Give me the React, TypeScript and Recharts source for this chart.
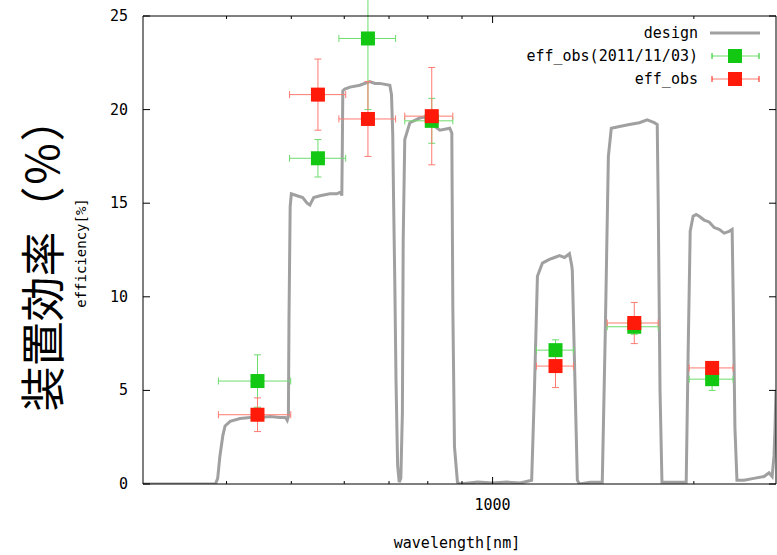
import React from 'react'
import { ComposedChart, Line, Scatter, ErrorBar, XAxis, YAxis, Legend } from 'recharts'

// design efficiency curve, [wavelength nm, efficiency %]
const designCurve: [number, number][] = [
  [300, 0], [385, 0], [388, 0.3], [391, 1.5], [395, 2.6], [398, 3.1], [405, 3.35], [419, 3.5],
  [434, 3.55], [449, 3.55], [465, 3.6], [481, 3.55], [490, 3.55], [493, 3.4], [495, 3.6], [496, 8.8],
  [498, 14.8], [500, 15.5], [510, 15.4], [520, 15.3], [528, 15.0], [533, 14.9], [540, 15.3], [552, 15.4],
  [571, 15.5], [585, 15.5], [593, 15.6], [595, 15.4], [596, 18], [597, 21.0], [601, 21.1], [612, 21.2],
  [633, 21.3], [655, 21.5], [667, 21.4], [678, 21.4], [702, 21.3], [706, 20.8], [709, 18.7], [711, 15.3],
  [714, 10.9], [717, 5.6], [721, 1.0], [725, 0.1], [729, 0.3], [733, 3.8], [735, 13], [739, 18.4],
  [752, 19.3], [778, 19.55], [791, 19.6], [805, 19.3], [834, 18.9], [863, 19.0], [869, 18.75], [872, 9.5],
  [877, 2], [886, 0.1], [893, 0], [950, 0.1], [1000, 0.05], [1050, 0.1], [1100, 0.05], [1144, 0.2],
  [1155, 5], [1167, 11.1], [1187, 11.8], [1216, 12.0], [1238, 12.1], [1259, 12.2], [1281, 12.1], [1303, 12.3],
  [1313, 11.7], [1316, 11.4], [1330, 4.5], [1339, 0.2], [1349, 0], [1400, 0.1], [1459, 0.1], [1474, 8],
  [1490, 17.5], [1505, 19.0], [1548, 19.1], [1602, 19.2], [1658, 19.3], [1703, 19.45], [1745, 19.3], [1763, 19.2],
  [1769, 15], [1780, 5], [1792, 0.1], [1850, 0.1], [1948, 0.1], [1961, 7], [1975, 13.5], [1995, 14.3],
  [2016, 14.4], [2037, 14.3], [2072, 14.1], [2108, 14.0], [2145, 13.7], [2182, 13.6], [2220, 13.4], [2258, 13.5],
  [2282, 13.6], [2290, 10], [2304, 3], [2320, 0.2], [2377, 0.2], [2459, 0.3], [2547, 0.4], [2591, 0.6],
  [2619, 0.4], [2636, 1.5], [2645, 3.0], [2654, 5],
]

// filter bands: center wavelength and half widths (nm)
const bandCenter = [445, 548, 651, 811, 1242, 1629, 2130]
const bandLower = [56, 51, 62, 72, 79, 145, 162]
const bandUpper = [54, 55, 65, 61, 79, 140, 159]

const eff20111103 = [5.5, 17.4, 23.8, 19.4, 7.15, 8.4, 5.6]
const eff20111103Err = [1.4, 1.0, 3.8, 1.2, 0.55, 0.4, 0.6]
const effObs = [3.7, 20.8, 19.5, 19.65, 6.3, 8.6, 6.2]
const effObsErr = [0.9, 1.9, 2.0, 2.6, 1.15, 1.1, 0.3]

const xTicks = [400, 500, 600, 700, 800, 900, 1000, 2000]
const xLabeled = [1000]
const yTicks = [0, 5, 10, 15, 20, 25]

const GREEN = '#12c812'
const GREEN_BAR = '#6ddc6d'
const RED = '#ff1a0a'
const RED_BAR = '#ff7a70'
const GRAY = '#a0a0a0'
const MONO = '"DejaVu Sans Mono", monospace'

const designData = designCurve.map(([wl, eff]) => ({ wl, eff }))

const makeObs = (vals: number[], errs: number[]) =>
  bandCenter.map((wl, i) => ({
    wl,
    eff: vals[i],
    errY: errs[i],
    errX: [bandLower[i], bandUpper[i]],
  }))

const obs2011Data = makeObs(eff20111103, eff20111103Err)
const obsData = makeObs(effObs, effObsErr)

const square = (props: any) => {
  const { cx, cy, fill } = props
  return <rect x={cx - 7} y={cy - 7} width={14} height={14} fill={fill} />
}

const BottomTick = (props: any) => {
  const { x, y, payload } = props
  const major = xLabeled.includes(payload.value)
  return (
    <g>
      <line x1={x} x2={x} y1={y} y2={y - (major ? 7 : 3)} stroke="#000" />
      {major && (
        <text x={x} y={y + 26} textAnchor="middle" fontFamily={MONO} fontSize={15} fill="#000">
          {payload.value}
        </text>
      )}
    </g>
  )
}

const TopTick = (props: any) => {
  const { x, y, payload } = props
  const major = xLabeled.includes(payload.value)
  return <line x1={x} x2={x} y1={y} y2={y + (major ? 7 : 3)} stroke="#000" />
}

const LeftTick = (props: any) => {
  const { x, y, payload } = props
  return (
    <g>
      <line x1={x} x2={x + 7} y1={y} y2={y} stroke="#000" />
      <text x={x - 15} y={y + 5} textAnchor="end" fontFamily={MONO} fontSize={15} fill="#000">
        {payload.value}
      </text>
    </g>
  )
}

const RightTick = (props: any) => {
  const { x, y } = props
  return <line x1={x} x2={x - 7} y1={y} y2={y} stroke="#000" />
}

const renderYLabel = () => (
  <text x={81} y={253} transform="rotate(-90 81 253)" textAnchor="middle" dominantBaseline="central"
    fontFamily={MONO} fontSize={14} fill="#000">
    efficiency[%]
  </text>
)

const renderXLabel = () => (
  <text x={457} y={543} textAnchor="middle" dominantBaseline="central" fontFamily={MONO} fontSize={15} fill="#000">
    wavelength[nm]
  </text>
)

const LegendErrorSample = ({ y, color, bar }: { y: number; color: string; bar: string }) => (
  <g>
    <line x1={222} x2={269} y1={y} y2={y} stroke={bar} />
    <line x1={222} x2={222} y1={y - 3} y2={y + 3} stroke={color} />
    <line x1={269} x2={269} y1={y - 3} y2={y + 3} stroke={color} />
    <rect x={238} y={y - 7} width={14} height={14} fill={color} />
  </g>
)

const renderLegend = () => (
  <svg width={280} height={80} style={{ display: 'block' }}>
    <g fontFamily={MONO} fontSize={15} fill="#000" textAnchor="end">
      <text x={208} y={15} dominantBaseline="central">design</text>
      <text x={208} y={38} dominantBaseline="central">eff_obs(2011/11/03)</text>
      <text x={208} y={61} dominantBaseline="central">eff_obs</text>
    </g>
    <line x1={220} x2={270} y1={15} y2={15} stroke={GRAY} strokeWidth={3} />
    <LegendErrorSample y={38} color={GREEN} bar={GREEN_BAR} />
    <LegendErrorSample y={61} color={RED} bar={RED_BAR} />
  </svg>
)

export default function App() {
  return (
    <div style={{ position: 'absolute', left: 0, top: 0, width: 777, height: 555, background: '#fff' }}>
      <ComposedChart width={777} height={555} margin={{ top: 0, right: 0, bottom: 0, left: 0 }}>
        <XAxis
          dataKey="wl"
          type="number"
          scale="log"
          domain={[300, 2654]}
          allowDataOverflow
          ticks={xTicks}
          interval={0}
          tickSize={0}
          tickMargin={0}
          tickLine={false}
          tick={<BottomTick />}
          axisLine={{ stroke: '#000' }}
          height={71}
          label={renderXLabel}
        />
        <XAxis
          xAxisId="top"
          orientation="top"
          dataKey="wl"
          type="number"
          scale="log"
          domain={[300, 2654]}
          allowDataOverflow
          ticks={xTicks}
          interval={0}
          tickSize={0}
          tickMargin={0}
          tickLine={false}
          tick={<TopTick />}
          axisLine={{ stroke: '#000' }}
          height={16}
        />
        <YAxis
          type="number"
          domain={[0, 25]}
          allowDataOverflow
          ticks={yTicks}
          interval={0}
          tickSize={0}
          tickMargin={0}
          tickLine={false}
          tick={<LeftTick />}
          axisLine={{ stroke: '#000' }}
          width={143}
          label={renderYLabel}
        />
        <YAxis
          yAxisId="right"
          orientation="right"
          type="number"
          domain={[0, 25]}
          allowDataOverflow
          ticks={yTicks}
          interval={0}
          tickSize={0}
          tickMargin={0}
          tickLine={false}
          tick={<RightTick />}
          axisLine={{ stroke: '#000' }}
          width={1}
        />
        <Legend
          content={renderLegend}
          layout="horizontal"
          align="center"
          verticalAlign="middle"
          wrapperStyle={{ left: 490, top: 18, width: 280, height: 80 }}
        />
        <Line
          data={designData}
          dataKey="eff"
          type="linear"
          stroke={GRAY}
          strokeWidth={3}
          dot={false}
          activeDot={false}
          isAnimationActive={false}
        />
        <Scatter data={obs2011Data} dataKey="eff" fill={GREEN} shape={square} isAnimationActive={false}>
          <ErrorBar dataKey="errX" direction="x" stroke={GREEN_BAR} width={3.5} strokeWidth={1} />
          <ErrorBar dataKey="errY" direction="y" stroke={GREEN_BAR} width={3.5} strokeWidth={1} />
        </Scatter>
        <Scatter data={obsData} dataKey="eff" fill={RED} shape={square} isAnimationActive={false}>
          <ErrorBar dataKey="errX" direction="x" stroke={RED_BAR} width={3.5} strokeWidth={1} />
          <ErrorBar dataKey="errY" direction="y" stroke={RED_BAR} width={3.5} strokeWidth={1} />
        </Scatter>
      </ComposedChart>
      <div
        style={{
          position: 'absolute',
          left: 40,
          top: 254,
          transform: 'translate(-50%, -50%) rotate(-90deg)',
          fontFamily: '"Noto Sans CJK JP", sans-serif',
          fontSize: 45,
          lineHeight: 1,
          whiteSpace: 'nowrap',
          color: '#000',
        }}
      >
        装置効率（％）
      </div>
    </div>
  )
}
